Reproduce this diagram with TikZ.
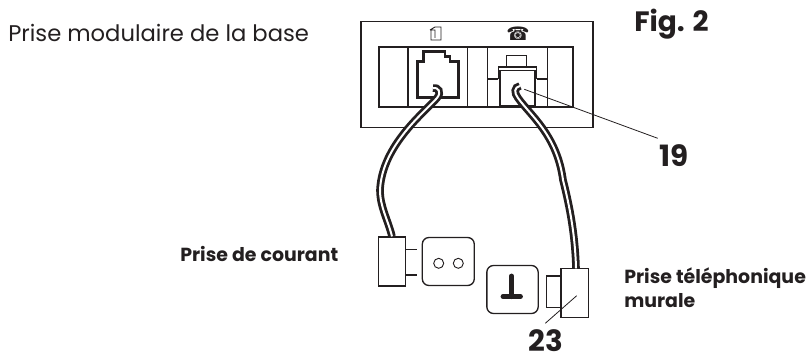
\documentclass[tikz,border=0pt]{standalone}
\usepackage{fontspec}
\setmainfont{Poppins}
\newfontfamily\symfont{DejaVu Sans}
\usetikzlibrary{positioning}
\definecolor{ink}{HTML}{231F20}
\tikzset{
  box/.style     = {rectangle, draw=ink, line width=1.1pt, inner sep=0pt},
  panel/.style   = {rectangle, draw=ink, line width=1.3pt, inner sep=0pt},
  socket/.style  = {rectangle, rounded corners=5pt, draw=ink, line width=1pt, inner sep=0pt},
  hole/.style    = {circle, draw=ink, line width=0.7pt, minimum size=7.5pt, inner sep=0pt},
  cable/.style   = {draw=ink, line width=2.1pt, double=white, double distance=1.5pt},
  lead/.style    = {draw=ink, line width=0.6pt},
  thin/.style    = {draw=ink, line width=0.9pt},
  jack/.style    = {draw=ink, line width=2.2pt, line join=miter},
  lbl/.style     = {font=\fontsize{14.2pt}{18.3pt}\selectfont\bfseries, inner sep=0pt, text=ink, align=left},
  num/.style     = {font=\fontsize{22pt}{24pt}\selectfont\bfseries, inner sep=0pt, text=ink},
}
\begin{document}
\begin{tikzpicture}[x=0.75pt,y=-0.75pt]
  \useasboundingbox (0,0) rectangle (807,356);
  % texts
  \node[anchor=base west, inner sep=0pt, text=ink, font=\fontsize{17pt}{20pt}\selectfont] (title) at (8,41.7) {Prise modulaire de la base};
  \node[anchor=base west, inner sep=0pt, text=ink, font=\fontsize{21pt}{24pt}\selectfont\bfseries] (fig) at (634,32) {Fig. 2};
  \node[num, anchor=base west] (n19) at (659,166.7) {19};
  \node[num, anchor=base west] (n23) at (528,351) {23};
  \node[lbl, anchor=base west] (courant) at (180,262) {Prise de courant};
  \node[lbl, anchor=base west] (murale) at (624,283.3) {Prise téléphonique};
  \node[lbl, anchor=base west] (murale2) at (624,307.7) {murale};

  % base unit
  \node[panel, minimum width=174pt, minimum height=79.5pt] (base) at (476.7,74.5) {};
  \node[panel, minimum width=145.3pt, minimum height=45pt] (front) at (476.2,76.7) {};
  \foreach \x in {408,467.5,487.5,547.5}
    \draw[thin] (\x,46.7) -- (\x,106.7);

  % jacks
  \draw[jack] (417.3,97.3) -- (417.3,61.7) -- (423.3,61.7) -- (423.3,51.7) -- (445,51.7) -- (445,56.7)
    -- (450,56.7) -- (450,61.7) -- (458.3,61.7) -- (458.3,97.3) -- cycle;
  \draw[thin] (506.7,67) -- (506.7,55.7) -- (526.7,55.7) -- (526.7,67);
  \draw[thin] (487.5,79) -- (498.3,79);
  \draw[thin] (536.7,79) -- (547.5,79);
  \draw[draw=ink, line width=1.1pt] (498.3,79) -- (498.3,67) -- (536.7,67) -- (536.7,79);
  \node[box, minimum width=26.3pt, minimum height=26.5pt] (plugjack) at (517.5,88.3) {};
  \draw[draw=ink, line width=2pt] (plugjack.south west) -- (plugjack.south east);

  % symbols
  \draw[thin, line width=0.7pt] (430,30) -- (435,27) -- (441,27) -- (441,40) -- (431,40) -- (431,30) -- (435,30) -- (435,38);
  \node[inner sep=0pt, text=ink, font=\symfont\fontsize{14pt}{14pt}\selectfont] (phone) at (518,34) {☎};

  % plugs and wall sockets
  \node[box, minimum width=20.5pt, minimum height=36.5pt] (plugA) at (392,261.5) {};
  \node[socket, minimum width=39pt, minimum height=36pt] (wallA) at (448.3,261.5) {};
  \node[hole] (holeL) at (438.7,263.3) {};
  \node[hole] (holeR) at (458.3,263.3) {};
  \draw[thin, line width=1.1pt] (405.7,249.3) -- (416.7,249.3);
  \draw[thin, line width=1.1pt] (405.7,275) -- (416.7,275);

  \node[socket, minimum width=38.5pt, minimum height=36pt] (wallB) at (512.5,289.5) {};
  \node[inner sep=0pt, minimum size=0pt] (tee) at (511.7,296.7) {};
  \draw[draw=ink, line width=3.6pt, line cap=round] (511.7,276) -- (tee.center);
  \draw[draw=ink, line width=3.6pt, line cap=round] (503,296.7) -- (520.5,296.7);

  \node[box, minimum width=20.5pt, minimum height=36.7pt] (plugB) at (574.7,292.8) {};
  \node[box, minimum width=10.7pt, minimum height=23.7pt] (tip) at (553.8,291.8) {};

  % cables
  \coordinate (hookA) at (433,88);
  \coordinate (hookB) at (520,86);
  \coordinate (midA) at (380,190);
  \coordinate (midB) at (563,180);
  \draw[cable] (hookA) .. controls (438,87) and (442,92) .. (437,98)
    .. controls (425,112) and (382,145) .. (midA)
    .. controls (380,207) and (388,220) .. (plugA.north);
  \draw[cable] (hookB) .. controls (514,87) and (514,93) .. (518,98)
    .. controls (530,115) and (557,135) .. (midB)
    .. controls (568,200) and (575,230) .. (576,268.3);

  % leader lines
  \coordinate (endA) at (524.3,89.3);
  \coordinate (endB) at (657.7,138.3);
  \coordinate (endC) at (576.7,295.7);
  \coordinate (endD) at (545.3,323.3);
  \draw[lead] (endA) -- (endB);
  \draw[lead] (endC) -- (endD);
\end{tikzpicture}
\end{document}
